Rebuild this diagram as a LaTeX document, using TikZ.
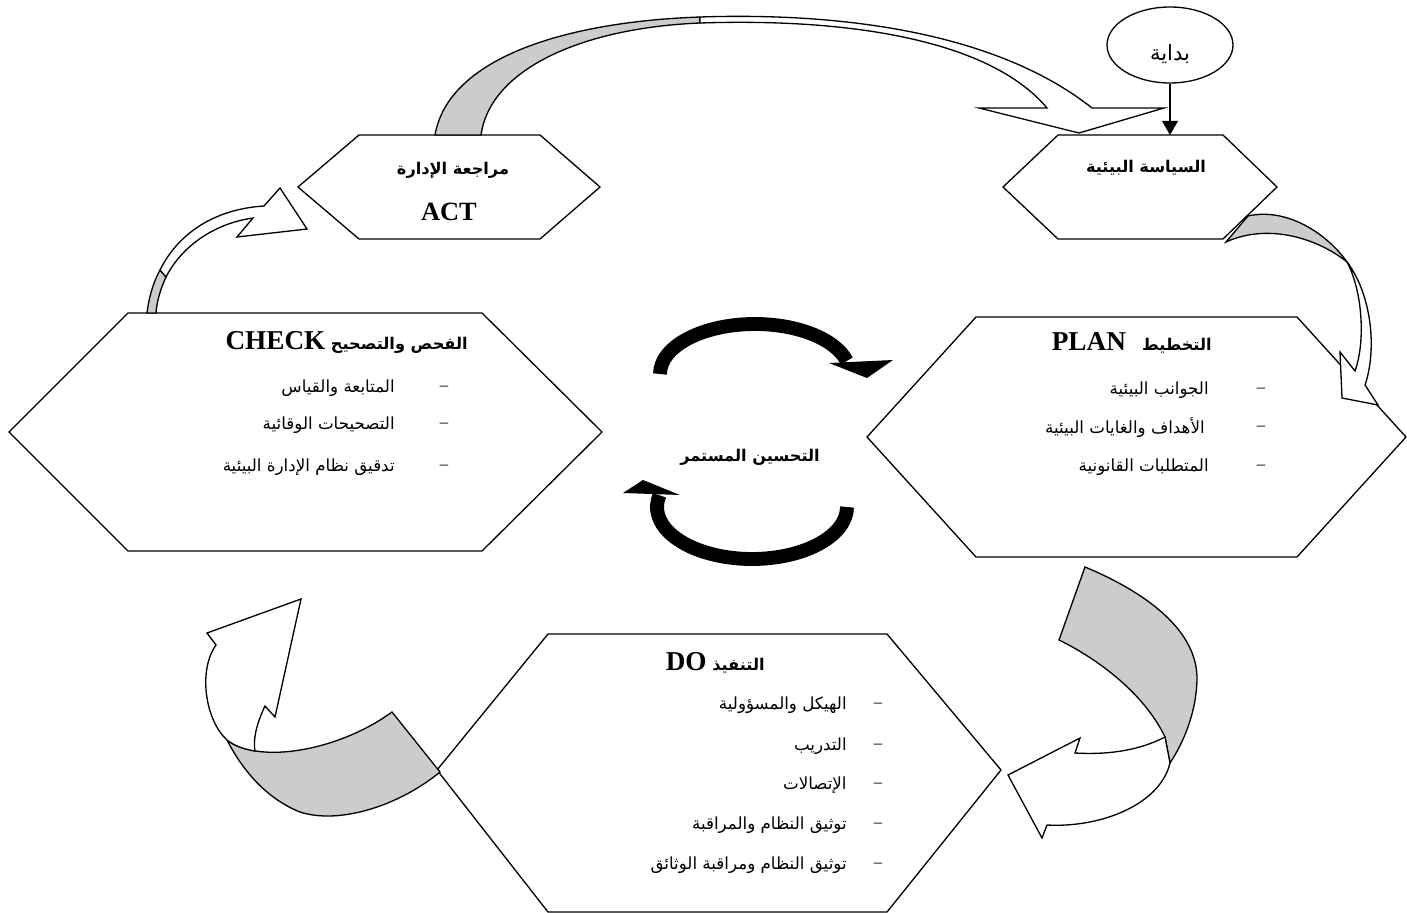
\documentclass[tikz,border=0pt]{standalone}
\usepackage{fontspec}
\setmainfont{Liberation Serif}
\newfontfamily\arabicfont[Script=Arabic]{DejaVu Sans}
\TeXXeTstate=1
\usetikzlibrary{shapes.geometric,arrows.meta}
\definecolor{ribbon}{gray}{0.8}
\newcommand{\artext}[1]{{\arabicfont\beginR #1\endR}}
\newcommand{\enword}[1]{\beginL{\rmfamily\bfseries\fontsize{15.5}{17}\selectfont #1}\endL}

\begin{document}
\begin{tikzpicture}[x=0.02cm, y=-0.02cm,
    hexa/.style={draw, line width=0.75pt},
    band/.style={draw, line width=0.75pt},
    back/.style={band, fill=ribbon},
    face/.style={band, fill=white},
    loop/.style={line width=7.9pt},
    txt/.style={inner sep=0pt, font=\fontsize{9.5}{11}\selectfont},
    ttl/.style={inner sep=0pt, font=\bfseries\fontsize{9.2}{11}\selectfont}]
  \useasboundingbox (0,0) rectangle (1407,913);

  % the five steps
  \draw[hexa] (298,187) -- (359,135) -- (540,135) -- (600,187) -- (540,239) -- (359,239) -- cycle;
  \draw[hexa] (1003,187) -- (1058,135) -- (1223,135) -- (1277,187) -- (1223,239) -- (1058,239) -- cycle;
  \draw[hexa] (9,432) -- (128,313) -- (482,313) -- (602,432) -- (482,551) -- (128,551) -- cycle;
  \draw[hexa] (867,437) -- (976,317) -- (1297,317) -- (1406,437) -- (1297,557) -- (976,557) -- cycle;
  \draw[hexa] (437,770) -- (548,634) -- (887,634) -- (1001,770) -- (887,912) -- (548,912) -- cycle;

  % start
  \node[draw, ellipse, line width=0.75pt, minimum width=2.52cm, minimum height=1.52cm, inner sep=0pt, text height=18pt, text depth=0pt, font=\fontsize{12}{14}\selectfont] (start) at (1170,45) {\artext{بداية}};
  \coordinate (poltop) at (1170,135);
  \draw[line width=0.75pt, -{Triangle[length=8pt,width=9pt]}] (start) -- (poltop);

  % ACT -> policy
  \draw[back] (435,135) .. controls (448,60) and (560,22) .. (700,17) -- (700,23) .. controls (580,28) and (490,70) .. (481,135) -- cycle;
  \draw[face] (700,17) .. controls (850,12) and (1000,35) .. (1092,108) -- (1164,108) -- (1079,133) -- (979,108) -- (1047,108) .. controls (990,40) and (850,18) .. (700,23) -- cycle;

  % policy -> PLAN
  \draw[back] (1226,242) -- (1248,216) .. controls (1288,207) and (1328,235) .. (1347,262) .. controls (1320,240) and (1270,222) .. (1226,242) -- cycle;
  \draw[face] (1347,262) .. controls (1362,290) and (1366,340) .. (1355,371) -- (1340,352) -- (1342,398) -- (1378,405) -- (1365,385) .. controls (1377,350) and (1372,295) .. (1347,262) -- cycle;

  % PLAN -> DO
  \draw[back] (1085,567) .. controls (1145,592) and (1198,630) .. (1197,680) .. controls (1196,715) and (1182,745) .. (1170,763) -- (1165,737) .. controls (1145,695) and (1100,660) .. (1059,640) -- cycle;
  \draw[face] (1165,737) .. controls (1140,750) and (1110,755) .. (1075,753) -- (1080,738) -- (1008,775) -- (1042,838) -- (1047,825) .. controls (1100,828) and (1160,805) .. (1170,763) -- cycle;

  % DO -> CHECK
  \draw[back] (392,712) -- (440,772) .. controls (400,805) and (340,825) .. (300,812) .. controls (270,800) and (245,775) .. (227,740) .. controls (260,765) and (340,750) .. (392,712) -- cycle;
  \draw[face] (227,740) .. controls (205,720) and (198,670) .. (216,645) -- (207,633) -- (301,599) -- (275,717) -- (265,706) .. controls (256,725) and (253,740) .. (255,751) .. controls (243,749) and (235,746) .. (227,740) -- cycle;

  % CHECK -> ACT
  \draw[back] (147,313) .. controls (149,297) and (153,283) .. (160,270) -- (166,277) .. controls (161,288) and (157,300) .. (156,313) -- cycle;
  \draw[face] (160,270) .. controls (179,232) and (216,209) .. (264,206) -- (280,188) -- (307,229) -- (237,237) -- (253,218) .. controls (217,223) and (183,244) .. (166,277) -- cycle;

  % continual improvement
  \draw[loop] (660,374) arc[start angle=180, end angle=345, x radius=95, y radius=50];
  \fill (829,363) -- (893,360) -- (867,378) -- cycle;
  \draw[loop] (847,507) arc[start angle=0, end angle=193, x radius=95, y radius=52];
  \fill (623,493) -- (680,495) -- (643,480) -- cycle;
  \node[ttl] (loopT) at (750,457) {\artext{التحسين المستمر}};

  % texts
  \node[ttl] (policyT) at (1146,168) {\artext{السياسة البيئية}};
  \node[ttl] (actT) at (453,170) {\artext{مراجعة الإدارة}};
  \node[inner sep=0pt, font=\bfseries\fontsize{15}{17}\selectfont] (actL) at (449,212) {ACT};

  \node[ttl, anchor=east] (checkT) at (468,342) {\artext{الفحص والتصحيح \enword{CHECK}}};
  \node[txt] (check1d) at (444,388) {–};
  \node[txt, anchor=east] (check1) at (395,388) {\artext{المتابعة والقياس}};
  \node[txt] (check2d) at (444,425) {–};
  \node[txt, anchor=east] (check2) at (395,425) {\artext{التصحيحات الوقائية}};
  \node[txt] (check3d) at (444,467) {–};
  \node[txt, anchor=east] (check3) at (395,467) {\artext{تدقيق نظام الإدارة البيئية}};

  \node[ttl, anchor=east] (planT) at (1212,343) {\artext{التخطيط\quad\enword{PLAN}}};
  \node[txt] (plan1d) at (1261,390) {–};
  \node[txt, anchor=east] (plan1) at (1209,390) {\artext{الجوانب البيئية}};
  \node[txt] (plan2d) at (1261,428) {–};
  \node[txt, anchor=east] (plan2) at (1205,428) {\artext{الأهداف والغايات البيئية}};
  \node[txt] (plan3d) at (1261,467) {–};
  \node[txt, anchor=east] (plan3) at (1209,467) {\artext{المتطلبات القانونية}};

  \node[ttl, anchor=east] (doT) at (765,663) {\artext{التنفيذ \enword{DO}}};
  \node[txt] (do1d) at (878,705) {–};
  \node[txt, anchor=east] (do1) at (847,705) {\artext{الهيكل والمسؤولية}};
  \node[txt] (do2d) at (878,746) {–};
  \node[txt, anchor=east] (do2) at (847,746) {\artext{التدريب}};
  \node[txt] (do3d) at (878,785) {–};
  \node[txt, anchor=east] (do3) at (847,785) {\artext{الإتصالات}};
  \node[txt] (do4d) at (878,825) {–};
  \node[txt, anchor=east] (do4) at (847,825) {\artext{توثيق النظام والمراقبة}};
  \node[txt] (do5d) at (878,865) {–};
  \node[txt, anchor=east] (do5) at (847,865) {\artext{توثيق النظام ومراقبة الوثائق}};
\end{tikzpicture}
\end{document}
